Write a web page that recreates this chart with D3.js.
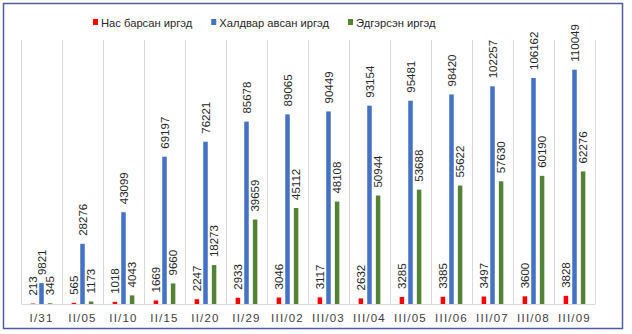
<!DOCTYPE html>
<html>
<head>
<meta charset="utf-8">
<script src="https://cdn.jsdelivr.net/npm/d3@7"></script>
<style>
  html, body { margin: 0; padding: 0; background: #fff; }
  svg { display: block; }
</style>
</head>
<body>
<svg id="chart" width="632" height="334"></svg>
<script>
// Daily COVID-19 figures by reporting date
const dates = ["I/31", "II/05", "II/10", "II/15", "II/20", "II/29", "III/02", "III/03",
               "III/04", "III/05", "III/06", "III/07", "III/08", "III/09"];
const deaths = [213, 565, 1018, 1669, 2247, 2933, 3046, 3117, 2632, 3285, 3385, 3497, 3600, 3828];
const confirmed = [9821, 28276, 43099, 69197, 76221, 85678, 89065, 90449, 93154, 95481, 98420, 102257, 106162, 110049];
const recovered = [345, 1173, 4043, 9660, 18273, 39659, 45112, 48108, 50944, 53688, 55622, 57630, 60190, 62276];

const seriesNames = ["Нас барсан иргэд", "Халдвар авсан иргэд", "Эдгэрсэн иргэд"];
const seriesColors = ["#ff0000", "#4472c4", "#548235"];
const seriesValues = [deaths, confirmed, recovered];

const svg = d3.select("#chart");

// outer frame
svg.append("rect")
  .attr("x", 3.5).attr("y", 3.5)
  .attr("width", 619).attr("height", 325)
  .attr("fill", "#fff")
  .attr("stroke", "#4d5c9c")
  .attr("stroke-width", 1.5);

const plot = { left: 21, right: 595, top: 40, bottom: 304 };

const x = d3.scaleBand()
  .domain(dates)
  .range([plot.left, plot.right])
  .paddingInner(0).paddingOuter(0);

const y = d3.scaleLinear()
  .domain([0, 124000])
  .range([plot.bottom, plot.top]);

// vertical category gridlines at band edges
const edges = dates.map(d => x(d)).concat([x(dates[dates.length - 1]) + x.bandwidth()]);
svg.append("g").selectAll("line")
  .data(edges)
  .join("line")
  .attr("x1", d => Math.round(d) + 0.5).attr("x2", d => Math.round(d) + 0.5)
  .attr("y1", plot.top).attr("y2", plot.bottom)
  .attr("stroke", "#d9d9d9").attr("stroke-width", 1);

// category axis
const xAxis = svg.append("g")
  .attr("transform", `translate(0,${plot.bottom})`)
  .call(d3.axisBottom(x).tickSize(0).tickPadding(10));
xAxis.select(".domain").attr("stroke", "#d9d9d9").attr("stroke-width", 1);
xAxis.selectAll("text")
  .attr("font-family", "Liberation Sans, Arial, sans-serif")
  .attr("font-size", "11.5px")
  .attr("letter-spacing", "1.2px")
  .attr("fill", "#404040");

// bars, offsets within each category
const step = 8.6, barW = 4.5;
const rows = [];
seriesValues.forEach((vals, si) => {
  vals.forEach((v, i) => rows.push({ s: si, cat: dates[i], v }));
});
const cx = d => x(d.cat) + x.bandwidth() / 2 + (d.s - 1) * step;

svg.append("g").selectAll("rect")
  .data(rows)
  .join("rect")
  .attr("x", d => cx(d) - barW / 2)
  .attr("y", d => y(d.v))
  .attr("width", barW)
  .attr("height", d => Math.max(0, y(0) - y(d.v)))
  .attr("fill", d => seriesColors[d.s]);

// value labels, rotated above each bar
svg.append("g").selectAll("text")
  .data(rows)
  .join("text")
  .attr("transform", d => `translate(${cx(d) + 4},${y(d.v) - 8}) rotate(-90)`)
  .attr("text-anchor", "start")
  .attr("font-family", "Liberation Sans, Arial, sans-serif")
  .attr("font-size", "11.5px")
  .attr("fill", "#262626")
  .text(d => d.v);

// legend
const legend = svg.append("g");
let lx = 93;
seriesNames.forEach((name, i) => {
  legend.append("rect")
    .attr("x", lx).attr("y", 19)
    .attr("width", 5).attr("height", 6)
    .attr("fill", seriesColors[i]);
  const t = legend.append("text")
    .attr("x", lx + 8).attr("y", 27)
    .attr("font-family", "Liberation Sans, Arial, sans-serif")
    .attr("font-size", "11.2px")
    .attr("fill", "#262626")
    .text(name);
  lx = lx + 8 + t.node().getComputedTextLength() + 19;
});
</script>
</body>
</html>
